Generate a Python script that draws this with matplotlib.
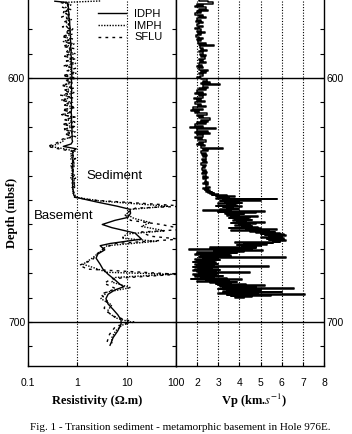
import numpy as np
import matplotlib
matplotlib.use("Agg")
import matplotlib.pyplot as plt

plt.rcParams['font.family'] = ['Liberation Sans', 'DejaVu Sans']
plt.rcParams['mathtext.fontset'] = 'stix'

# ------------------------------------------------------------
# data (depth in mbsf)
# ------------------------------------------------------------
# sediment part of the resistivity logs, 1 m sampling
res_sed_depth = np.arange(569, 649)

idph_sed = [0.62, 0.64, 0.66, 0.65, 0.67, 0.68, 0.67, 0.69, 0.70, 0.70,
            0.71, 0.71, 0.72, 0.71, 0.73, 0.72, 0.73, 0.74, 0.73, 0.74,
            0.75, 0.74, 0.75, 0.76, 0.75, 0.76, 0.77, 0.76, 0.77, 0.78,
            0.77, 0.78, 0.76, 0.77, 0.75, 0.76, 0.77, 0.76, 0.75, 0.76,
            0.77, 0.75, 0.76, 0.77, 0.76, 0.75, 0.76, 0.77, 0.76, 0.77,
            0.76, 0.77, 0.78, 0.77, 0.78, 0.79, 0.78, 0.80, 0.75, 0.52,
            0.95, 0.80, 0.81, 0.82, 0.81, 0.80, 0.81, 0.80, 0.81, 0.82,
            0.81, 0.80, 0.81, 0.80, 0.81, 0.80, 0.81, 0.82, 0.83, 0.85]

imph_sed = [0.52, 0.74, 0.58, 0.66, 0.50, 0.70, 0.60, 0.76, 0.56, 0.72,
            0.58, 0.84, 0.62, 0.78, 0.54, 0.72, 0.52, 0.86, 0.60, 0.74,
            0.62, 0.90, 0.56, 0.76, 0.64, 0.92, 0.58, 0.80, 0.66, 0.94,
            0.56, 0.82, 0.60, 0.78, 0.50, 0.76, 0.58, 0.88, 0.54, 0.74,
            0.48, 0.80, 0.56, 0.86, 0.52, 0.76, 0.50, 0.84, 0.58, 0.92,
            0.54, 0.80, 0.52, 0.90, 0.60, 0.78, 0.56, 0.50, 0.40, 0.28,
            0.55, 0.90, 0.74, 0.84, 0.72, 0.88, 0.76, 0.90, 0.74, 0.84,
            0.76, 0.90, 0.72, 0.86, 0.78, 0.92, 0.76, 0.86, 0.80, 0.90]

sflu_sed = [0.46, 0.66, 0.50, 0.76, 0.52, 0.64, 0.48, 0.70, 0.54, 0.68,
            0.50, 0.78, 0.56, 0.70, 0.48, 0.82, 0.56, 0.72, 0.50, 0.90,
            0.58, 0.74, 0.52, 0.96, 0.60, 0.78, 0.54, 0.92, 0.62, 0.80,
            0.50, 0.98, 0.56, 0.74, 0.48, 0.90, 0.52, 0.72, 0.46, 0.84,
            0.48, 0.70, 0.52, 0.94, 0.50, 0.74, 0.48, 0.90, 0.54, 0.78,
            0.50, 0.96, 0.52, 0.76, 0.56, 0.92, 0.50, 0.44, 0.34, 0.25,
            0.42, 0.78, 0.88, 0.74, 0.92, 0.76, 0.88, 0.74, 0.90, 0.78,
            0.88, 0.76, 0.92, 0.78, 0.88, 0.76, 0.90, 0.80, 0.86, 0.88]

# top of hole
idph_top_depth = [568.5]
idph_top = [0.35]
imph_top_depth = [568.4]
imph_top = [2.9]

# basement part
idph_bas_depth = [648.8, 650.8, 652.5, 653.8, 655.4, 657.1, 658.3, 660.0, 661.3, 663.5,
                  666.0, 667.8, 668.7, 670.4, 672.1, 673.8, 676.3, 678.3, 680.4, 682.7,
                  684.5, 685.5, 686.8, 688.6, 690.4, 692.6, 694.8, 697.0, 699.1, 700.9,
                  703.6, 706.4, 708.2, 709.5]
idph_bas = [0.9, 2.5, 6.4, 11.7, 12, 10.6, 5.8, 3.2, 5.0, 14.7,
            20, 4.6, 2.9, 3.6, 2.6, 2.4, 2.9, 3.3, 4.2, 5.8,
            7.3, 8.8, 5.8, 4.2, 3.8, 4.2, 5.3, 6.6, 7.7, 7.7,
            6.6, 5.3, 4.9, 4.6]

imph_bas_depth = [648.8, 650.4, 651.7, 652.5, 653.8, 655.8, 657.5, 659.2, 660.8, 662.6,
                  663.9, 665.6, 666.9, 668.7, 670.9, 673.8, 676.3, 677.5, 679.6, 680.4,
                  681.7, 683.6, 685.9, 687.7, 690.4, 693.0, 695.7, 698.3, 700.0, 701.3,
                  703.6, 706.4, 709.1]
imph_bas = [0.9, 3, 20, 70, 12, 10, 14, 30, 20, 60,
            10, 8, 40, 4, 3, 2, 1.3, 2, 4, 80,
            6, 5, 12, 4, 3, 5, 4, 6, 12, 8,
            6, 5, 5]

sflu_bas_depth = [648.8, 650.0, 651.7, 652.5, 653.3, 655.8, 658.3, 660.0, 662.0, 663.1,
                  664.8, 666.0, 667.8, 669.6, 672.1, 674.6, 676.7, 678.3, 680.4, 682.2,
                  684.1, 686.3, 688.6, 691.3, 694.3, 697.4, 700.0, 701.7, 705.0, 708.2]
sflu_bas = [0.85, 2, 40, 150, 15, 9, 12, 50, 150, 20,
            30, 120, 6, 3.5, 2.5, 2, 1.1, 1.6, 110, 5,
            3.5, 6, 3, 4, 3.5, 5, 14, 6, 4.5, 4]

# Vp log: sediment 0.5 m sampling, basement 0.25 m sampling
vp_sed_depth = np.arange(568, 645.25, 0.5)
vp_sed = [2.1, 2.5, 2.75, 2.0, 2.3, 1.9, 2.4, 2.1, 2.5, 2.0,
          2.2, 1.9, 2.3, 2.1, 2.4, 2.0, 2.2, 1.95, 2.3, 2.1,
          2.0, 2.3, 2.1, 1.9, 2.2, 2.0, 2.35, 2.05, 2.2, 1.95,
          2.1, 2.3, 2.0, 2.2, 2.05, 2.4, 2.1, 2.8, 2.15, 2.3,
          2.2, 2.45, 2.1, 2.3, 2.15, 2.4, 2.2, 2.35, 2.1, 2.3,
          2.15, 2.4, 2.1, 2.25, 2.0, 2.3, 2.1, 2.5, 2.2, 2.4,
          2.1, 2.3, 2.15, 2.0, 2.2, 2.45, 2.3, 2.6, 2.2, 3.1,
          2.3, 2.5, 2.1, 2.4, 2.0, 2.3, 1.9, 2.4, 2.1, 2.3,
          1.85, 2.2, 2.0, 2.35, 1.9, 2.2, 2.05, 2.4, 1.8, 2.3,
          1.7, 2.1, 1.9, 2.45, 2.0, 2.3, 2.1, 2.6, 2.2, 2.5,
          2.0, 2.4, 1.9, 2.3, 1.65, 2.9, 2.0, 2.5, 1.9, 2.6,
          2.0, 2.3, 1.9, 2.25, 2.05, 2.4, 2.1, 2.3, 2.0, 2.35,
          2.2, 3.2, 2.3, 2.5, 2.2, 2.4, 2.25, 2.45, 2.3, 2.4,
          2.25, 2.4, 2.3, 2.45, 2.2, 2.4, 2.3, 2.35, 2.25, 2.4,
          2.3, 2.45, 2.25, 2.4, 2.3, 2.5, 2.3, 2.4, 2.35, 2.5,
          2.3, 2.5, 2.4, 2.6, 2.45]

vp_bas_depth = np.arange(645.25, 690.1, 0.25)
vp_bas = [2.3, 2.5, 2.35, 2.6,  2.4, 2.7, 2.5, 2.8,  2.6, 3.0, 2.7, 3.4,
          2.9, 3.8, 3.0, 3.5,  2.9, 5.8, 3.2, 5.0,  3.1, 4.0, 3.3, 4.1,
          3.0, 3.8, 3.4, 3.9,  2.9, 4.1, 3.2, 3.7,  3.4, 4.0, 3.1, 3.6,
          2.3, 5.2, 3.0, 4.8,  3.3, 4.2, 3.5, 4.0,  3.4, 4.9, 3.6, 4.5,
          3.5, 4.4, 3.8, 4.6,  3.7, 4.3, 3.9, 5.2,  3.6, 4.8, 4.0, 4.5,
          3.8, 4.6, 4.1, 4.9,  3.5, 5.0, 4.3, 5.8,  3.6, 5.4, 4.5, 5.7,
          4.8, 5.9, 5.0, 6.1,  5.2, 6.2, 5.4, 6.0,  5.0, 6.1, 5.3, 5.9,
          5.4, 6.2, 5.6, 5.9,  3.8, 5.6, 4.2, 5.3,  3.9, 5.0, 4.1, 4.8,
          2.6, 4.8, 3.0, 4.6,  1.6, 5.1, 2.8, 4.2,  2.0, 3.9, 2.4, 3.5,
          1.9, 3.6, 2.2, 3.3,  2.1, 6.2, 2.3, 3.0,  1.9, 3.1, 2.0, 2.8,
          1.8, 2.9, 2.1, 3.0,  1.9, 2.8, 2.0, 5.4,  1.8, 3.0, 2.1, 2.7,
          1.9, 3.1, 1.8, 2.9,  2.0, 4.5, 2.1, 3.0,  1.8, 2.9, 2.0, 3.2,
          1.9, 2.8, 2.2, 3.4,  1.7, 4.1, 2.4, 3.5,  2.0, 3.9, 2.6, 3.6,
          2.9, 4.3, 3.0, 5.2,  3.1, 4.8, 3.2, 6.6,  3.0, 4.6, 3.4, 5.0,
          3.2, 6.0, 3.5, 4.9,  3.0, 7.1, 3.4, 5.5,  3.6, 4.6, 3.8, 4.2]

res_ticks = [0.1, 1, 10, 100]
res_ticklabels = ["0.1", "1", "10", "100"]
vp_ticks = [2, 3, 4, 5, 6, 7, 8]
depth_ticks = np.arange(580, 720, 10)

# join the pieces of each curve
idph_d = np.concatenate([idph_top_depth, res_sed_depth, idph_bas_depth])
idph_v = np.concatenate([idph_top, idph_sed, idph_bas])
imph_d = np.concatenate([imph_top_depth, res_sed_depth, imph_bas_depth])
imph_v = np.concatenate([imph_top, imph_sed, imph_bas])
sflu_d = np.concatenate([res_sed_depth, sflu_bas_depth])
sflu_v = np.concatenate([sflu_sed, sflu_bas])
vp_d = np.concatenate([vp_sed_depth, vp_bas_depth])
vp_v = np.concatenate([vp_sed, vp_bas])

# ------------------------------------------------------------
# figure
# ------------------------------------------------------------
fig = plt.figure(figsize=(3.52, 4.34), dpi=100)
ax1 = fig.add_axes([28/352, 68/434, 148/352, 366/434])
ax2 = fig.add_axes([176/352, 68/434, 148/352, 366/434])

dotted = (0, (1, 1.5))

# resistivity panel
ax1.plot(idph_v, idph_d, color="k", lw=1.0, label="IDPH")
ax1.plot(imph_v, imph_d, color="k", lw=1.0, linestyle=(0, (1, 1)), label="IMPH")
ax1.plot(sflu_v, sflu_d, color="k", lw=1.0, linestyle=(0, (2, 3)), label="SFLU")
ax1.set_xscale("log")
ax1.set_xlim(0.1, 100)
for v in [1, 10]:
    ax1.axvline(v, color="k", lw=0.8, linestyle=dotted, zorder=0)

# Vp panel
ax2.plot(vp_v, vp_d, color="k", lw=1.1, drawstyle="steps-pre")
ax2.set_xlim(1, 8)
for v in [2, 3, 4, 5, 6, 7]:
    ax2.axvline(v, color="k", lw=0.8, linestyle=dotted, zorder=0)

for ax in (ax1, ax2):
    ax.set_ylim(718, 568)
    ax.axhline(600, color="k", lw=1)
    ax.axhline(700, color="k", lw=1)
    ax.spines["top"].set_visible(False)
    for s in ["left", "right", "bottom"]:
        ax.spines[s].set_linewidth(1)
    ax.set_yticks(depth_ticks)
    ax.set_yticklabels([str(d) if d in (600, 700) else "" for d in depth_ticks])
    ax.tick_params(axis="both", direction="in", length=3, width=0.8,
                   labelsize=7.5, pad=2)
    ax.tick_params(axis="x", pad=9, labelsize=7.5)
    ax.minorticks_off()

ax1.set_xticks(res_ticks)
ax1.set_xticklabels(res_ticklabels)
ax1.tick_params(axis="y", left=True, right=True, labelleft=True, labelright=False)

ax2.set_xticks(vp_ticks)
ax2.set_xticklabels([str(v) for v in vp_ticks])
ax2.tick_params(axis="y", left=False, right=True, labelleft=False, labelright=True)

ax1.legend(loc="upper left", bbox_to_anchor=(0.47, 0.975), frameon=False,
           fontsize=8, handlelength=2.6, handletextpad=0.7,
           labelspacing=0.15, borderpad=0, borderaxespad=0)

ax1.text(5.6, 640, "Sediment", fontsize=9.5, ha="center", va="center")
ax1.text(0.54, 656.7, "Basement", fontsize=9.5, ha="center", va="center")

serif = ["Liberation Serif", "DejaVu Serif"]
fig.text(12/352, 1 - 213/434, "Depth (mbsf)", rotation=90, family=serif,
         weight="bold", fontsize=9, ha="center", va="center")
fig.text(97/352, 1 - 401/434, "Resistivity (\u03a9.m)", family=serif,
         weight="bold", fontsize=9, ha="center", va="center")
fig.text(254/352, 1 - 401/434, r"Vp (km.$s^{-1}$)", family=serif,
         weight="bold", fontsize=9, ha="center", va="center")
fig.text(180/352, 1 - 427/434,
         "Fig. 1 - Transition sediment - metamorphic basement in Hole 976E.",
         family=serif, fontsize=8, ha="center", va="center")

fig.savefig("out.png", dpi=100)
